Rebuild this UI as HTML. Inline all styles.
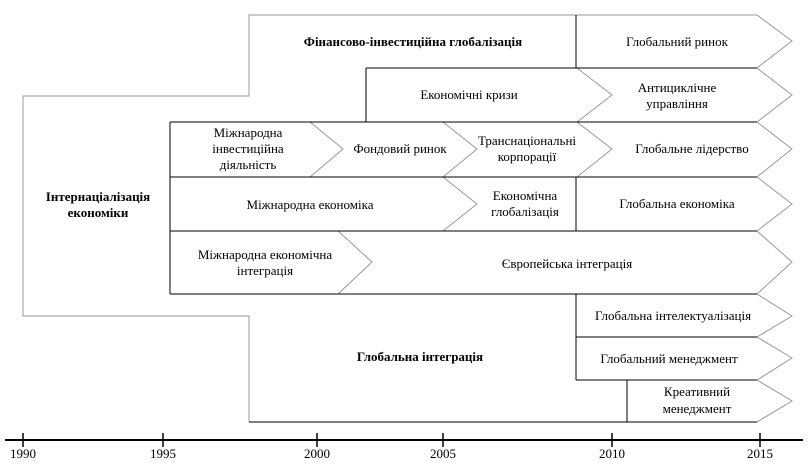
<!DOCTYPE html>
<html><head><meta charset="utf-8"><style>
html,body{margin:0;padding:0;background:#fff;}
svg text{font-family:"Liberation Serif",serif;font-size:13px;fill:#000;}
.b{font-weight:bold;}
</style></head><body>
<svg width="810" height="461" viewBox="0 0 810 461" xmlns="http://www.w3.org/2000/svg">
<g fill="none" stroke="#999" stroke-width="1">
<polyline points="249,422 249,316 23,316 23,96 249,96 249,15 757,15 792,41 757,68 792,95 757,122 792,149 757,177 792,204 757,231 792,262 757,294 792,316 757,337 792,358 757,380 792,401 757,422 249,422"/>
<polyline points="577,68 612,95 577,122"/>
<polyline points="310,122 343,149 310,177"/>
<polyline points="443,122 477,149 443,177"/>
<polyline points="577,122 612,149 577,177"/>
<polyline points="443,177 477,204 443,231"/>
<polyline points="338,231 372,262 338,294"/>
</g>
<g fill="none" stroke="#000" stroke-width="1">
<line x1="576" y1="15" x2="576" y2="68"/>
<line x1="366" y1="68" x2="757" y2="68"/>
<line x1="366" y1="68" x2="366" y2="122"/>
<line x1="170" y1="122" x2="757" y2="122"/>
<line x1="170" y1="122" x2="170" y2="294"/>
<line x1="170" y1="177" x2="757" y2="177"/>
<line x1="170" y1="231" x2="757" y2="231"/>
<line x1="576" y1="177" x2="576" y2="231"/>
<line x1="170" y1="294" x2="757" y2="294"/>
<line x1="576" y1="294" x2="576" y2="380"/>
<line x1="576" y1="337" x2="757" y2="337"/>
<line x1="576" y1="380" x2="757" y2="380"/>
<line x1="627" y1="380" x2="627" y2="422"/>
<line x1="249" y1="422" x2="757" y2="422"/>
</g>
<g stroke="#000">
<line x1="5" y1="440" x2="803" y2="440" stroke-width="2"/>
<line x1="23" y1="433" x2="23" y2="447" stroke-width="1.5"/>
<line x1="163" y1="433" x2="163" y2="447" stroke-width="1.5"/>
<line x1="317" y1="433" x2="317" y2="447" stroke-width="1.5"/>
<line x1="443" y1="433" x2="443" y2="447" stroke-width="1.5"/>
<line x1="612" y1="433" x2="612" y2="447" stroke-width="1.5"/>
<line x1="760" y1="433" x2="760" y2="447" stroke-width="1.5"/>
</g>
<g text-anchor="middle">
<text x="23" y="458">1990</text>
<text x="163" y="458">1995</text>
<text x="317" y="458">2000</text>
<text x="443" y="458">2005</text>
<text x="612" y="458">2010</text>
<text x="760" y="458">2015</text>

<text x="413" y="46" class="b">Фінансово-інвестиційна глобалізація</text>
<text x="677" y="46">Глобальний ринок</text>
<text x="469" y="99">Економічні кризи</text>
<text x="677" y="92">Антициклічне</text>
<text x="677" y="108">управління</text>
<text x="248" y="137">Міжнародна</text>
<text x="248" y="153">інвестиційна</text>
<text x="248" y="169">діяльність</text>
<text x="400" y="153">Фондовий ринок</text>
<text x="527" y="145">Транснаціональні</text>
<text x="527" y="161">корпорації</text>
<text x="692" y="153">Глобальне лідерство</text>
<text x="310" y="209">Міжнародна економіка</text>
<text x="525" y="200">Економічна</text>
<text x="525" y="216">глобалізація</text>
<text x="677" y="208">Глобальна економіка</text>
<text x="98" y="201" class="b">Інтернаціалізація</text>
<text x="98" y="217" class="b">економіки</text>
<text x="265" y="259">Міжнародна економічна</text>
<text x="265" y="275">інтеграція</text>
<text x="567" y="268">Європейська інтеграція</text>
<text x="673" y="320">Глобальна інтелектуалізація</text>
<text x="669" y="363">Глобальний менеджмент</text>
<text x="420" y="361" class="b">Глобальна інтеграція</text>
<text x="697" y="396">Креативний</text>
<text x="697" y="413">менеджмент</text>
</g>
</svg>
</body></html>
